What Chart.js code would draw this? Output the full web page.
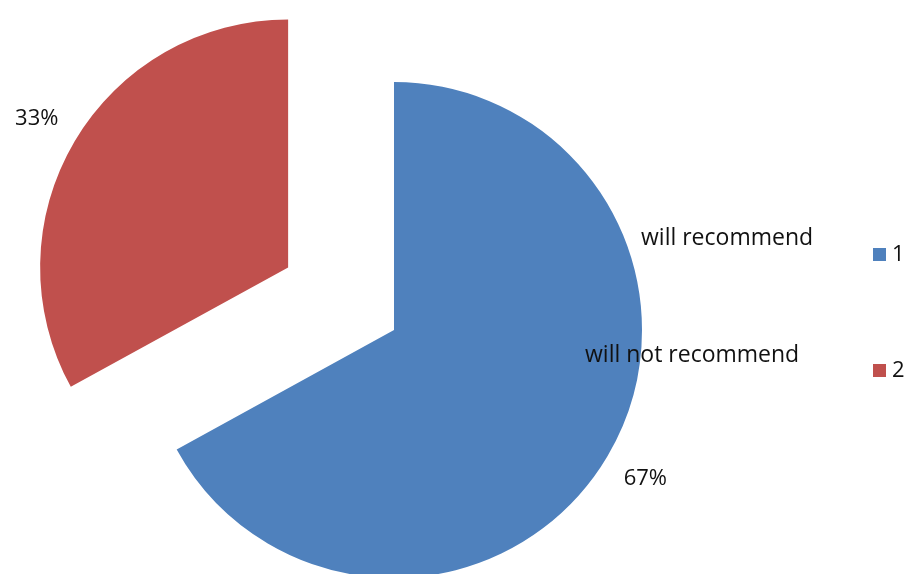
<!DOCTYPE html>
<html>
<head>
<meta charset="utf-8">
<script src="https://cdn.jsdelivr.net/npm/chart.js@4"></script>
<style>
  html, body { margin: 0; padding: 0; background: #fff; }
  #wrap { width: 907px; height: 574px; position: relative; }
</style>
</head>
<body>
<div id="wrap"><canvas id="pieGraph" width="907" height="574"></canvas></div>
<script>
var categories = ['1', '2'];
var answers = ['will recommend', 'will not recommend'];
var shares = [67, 33];
var sliceColors = ['#4F81BD', '#C0504D'];
var explode = [0, 123];

var fontFamily = '"Open Sans", "Liberation Sans", sans-serif';

// pull slices out from the centre without making them bigger (the built-in offset grows the radius)
var explodePlugin = {
    id: 'explodeSlices',
    afterDatasetUpdate: function(chart, args) {
        var arcs = chart.getDatasetMeta(args.index).data;
        arcs.forEach(function(arc, i) {
            var d = explode[i] || 0;
            var mid = (arc.startAngle + arc.endAngle) / 2;
            arc.x += Math.cos(mid) * d;
            arc.y += Math.sin(mid) * d;
        });
    }
};

// percentage labels outside each slice, answer labels and the legend on the right
var labelPlugin = {
    id: 'pieLabels',
    afterDatasetsDraw: function(chart) {
        var ctx = chart.ctx;
        var arcs = chart.getDatasetMeta(0).data;
        var total = shares.reduce(function(a, b) { return a + b; }, 0);
        ctx.save();
        ctx.font = '22px ' + fontFamily;
        ctx.fillStyle = '#111';
        ctx.textAlign = 'center';
        ctx.textBaseline = 'middle';
        arcs.forEach(function(arc, i) {
            var mid = (arc.startAngle + arc.endAngle) / 2;
            var dist = arc.outerRadius + 44;
            var x = arc.x + Math.cos(mid) * dist;
            var y = arc.y + Math.sin(mid) * dist;
            ctx.fillText(Math.round(shares[i] / total * 100) + '%', x, y);
        });

        ctx.font = '23px ' + fontFamily;
        ctx.textAlign = 'left';
        ctx.fillText(answers[0], 641, 238);
        ctx.fillText(answers[1], 585, 355);

        ctx.font = '22px ' + fontFamily;
        categories.forEach(function(cat, i) {
            var y = 254 + i * 116;
            ctx.fillStyle = sliceColors[i];
            ctx.fillRect(873, y - 6, 13, 13);
            ctx.fillStyle = '#111';
            ctx.fillText(cat, 892, y + 1);
        });
        ctx.restore();
    }
};

var pieConfig =
{
    type: 'pie',
    data: {
        labels: categories,
        datasets: [{
            data: shares,
            backgroundColor: sliceColors,
            borderWidth: 0
        }]
    },
    options: {
        responsive: false,
        animation: false,
        radius: 248,
        layout: {
            padding: { left: 0, right: 119, top: 86, bottom: 0 }
        },
        plugins: {
            legend: { display: false },
            tooltip: { enabled: false }
        }
    },
    plugins: [explodePlugin, labelPlugin]
}

const pieCtx = document.getElementById('pieGraph');
const pieChart = new Chart(pieCtx, pieConfig);
</script>
</body>
</html>
